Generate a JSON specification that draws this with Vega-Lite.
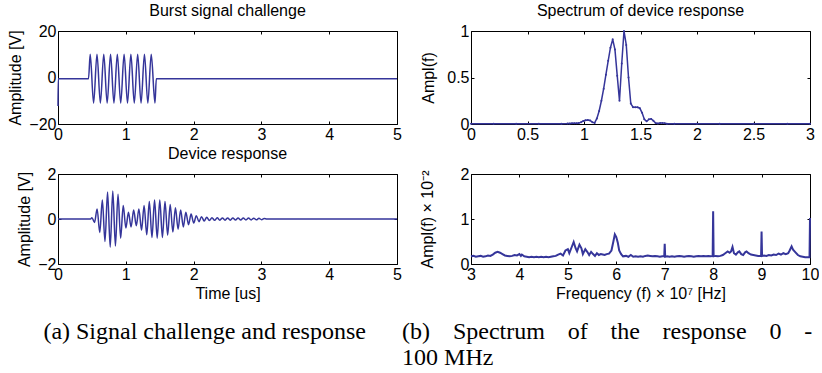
{
  "$schema": "https://vega.github.io/schema/vega-lite/v6.json",
  "background": "white",
  "padding": {"left": 7, "top": 3, "right": 0, "bottom": 0},
  "spacing": 0,
  "datasets": {
    "burst": [
      {"t": 0, "v": -12.3}, {"t": 0.004, "v": -0.5}, {"t": 0.45, "v": -0.5},
      {"t": 0.475, "v": 10}, {"t": 0.525, "v": -11}, {"t": 0.575, "v": 10}, {"t": 0.625, "v": -11},
      {"t": 0.675, "v": 10}, {"t": 0.725, "v": -11}, {"t": 0.775, "v": 10}, {"t": 0.825, "v": -11},
      {"t": 0.875, "v": 10}, {"t": 0.925, "v": -11}, {"t": 0.975, "v": 10}, {"t": 1.025, "v": -11},
      {"t": 1.075, "v": 10}, {"t": 1.125, "v": -11}, {"t": 1.175, "v": 10}, {"t": 1.225, "v": -11},
      {"t": 1.275, "v": 10}, {"t": 1.325, "v": -11}, {"t": 1.375, "v": 10}, {"t": 1.43, "v": -11},
      {"t": 1.45, "v": -0.5}, {"t": 5, "v": -0.5}
    ],
    "response": [
      {"t": 0, "v": 0}, {"t": 0.48, "v": 0},
      {"t": 0.5, "v": 0.06}, {"t": 0.539, "v": -0.15}, {"t": 0.577, "v": 0.45}, {"t": 0.616, "v": -0.6},
      {"t": 0.654, "v": 0.85}, {"t": 0.693, "v": -1.0}, {"t": 0.731, "v": 1.2}, {"t": 0.77, "v": -1.25},
      {"t": 0.808, "v": 1.25}, {"t": 0.847, "v": -1.2}, {"t": 0.885, "v": 1.1}, {"t": 0.924, "v": -0.85},
      {"t": 0.962, "v": 0.6}, {"t": 1.001, "v": -0.4}, {"t": 1.039, "v": 0.3}, {"t": 1.078, "v": -0.35},
      {"t": 1.116, "v": 0.4}, {"t": 1.155, "v": -0.3}, {"t": 1.193, "v": 0.45}, {"t": 1.232, "v": -0.5},
      {"t": 1.27, "v": 0.6}, {"t": 1.309, "v": -0.7}, {"t": 1.347, "v": 0.78}, {"t": 1.386, "v": -0.82},
      {"t": 1.424, "v": 0.85}, {"t": 1.463, "v": -0.85}, {"t": 1.501, "v": 0.85}, {"t": 1.54, "v": -0.82},
      {"t": 1.578, "v": 0.78}, {"t": 1.617, "v": -0.72}, {"t": 1.655, "v": 0.65}, {"t": 1.694, "v": -0.58},
      {"t": 1.732, "v": 0.5}, {"t": 1.771, "v": -0.45}, {"t": 1.809, "v": 0.4}, {"t": 1.848, "v": -0.35},
      {"t": 1.886, "v": 0.3}, {"t": 1.925, "v": -0.25}, {"t": 1.963, "v": 0.22}, {"t": 2.002, "v": -0.18},
      {"t": 2.04, "v": 0.15}, {"t": 2.079, "v": -0.12}, {"t": 2.117, "v": 0.1}, {"t": 2.156, "v": -0.09},
      {"t": 2.194, "v": 0.08}, {"t": 2.233, "v": -0.07}, {"t": 2.271, "v": 0.06}, {"t": 2.31, "v": -0.06},
      {"t": 2.348, "v": 0.055}, {"t": 2.387, "v": -0.05}, {"t": 2.425, "v": 0.05}, {"t": 2.464, "v": -0.05},
      {"t": 2.502, "v": 0.05}, {"t": 2.541, "v": -0.05}, {"t": 2.579, "v": 0.045}, {"t": 2.618, "v": -0.045},
      {"t": 2.656, "v": 0.045}, {"t": 2.695, "v": -0.045}, {"t": 2.733, "v": 0.04}, {"t": 2.772, "v": -0.04},
      {"t": 2.81, "v": 0.04}, {"t": 2.849, "v": -0.04}, {"t": 2.887, "v": 0.035}, {"t": 2.926, "v": -0.035},
      {"t": 2.964, "v": 0.03}, {"t": 3.003, "v": -0.03}, {"t": 3.041, "v": 0.02}, {"t": 3.08, "v": 0},
      {"t": 5, "v": 0}
    ],
    "spec1": [
      {"f": 0, "a": 0.004}, {"f": 0.2, "a": 0.003}, {"f": 0.4, "a": 0.003}, {"f": 0.6, "a": 0.003},
      {"f": 0.8, "a": 0.004}, {"f": 0.854, "a": 0.005}, {"f": 0.874, "a": 0.006}, {"f": 0.894, "a": 0.007},
      {"f": 0.914, "a": 0.008}, {"f": 0.934, "a": 0.007}, {"f": 0.954, "a": 0.01}, {"f": 0.974, "a": 0.02},
      {"f": 0.994, "a": 0.032}, {"f": 1.014, "a": 0.04}, {"f": 1.034, "a": 0.043}, {"f": 1.054, "a": 0.038},
      {"f": 1.074, "a": 0.02}, {"f": 1.094, "a": 0.012}, {"f": 1.114, "a": 0.06}, {"f": 1.134, "a": 0.14},
      {"f": 1.154, "a": 0.25}, {"f": 1.174, "a": 0.38}, {"f": 1.194, "a": 0.53}, {"f": 1.214, "a": 0.68},
      {"f": 1.234, "a": 0.82}, {"f": 1.254, "a": 0.91}, {"f": 1.274, "a": 0.8}, {"f": 1.294, "a": 0.52},
      {"f": 1.314, "a": 0.25}, {"f": 1.334, "a": 0.65}, {"f": 1.354, "a": 1.0}, {"f": 1.374, "a": 0.85},
      {"f": 1.394, "a": 0.5}, {"f": 1.414, "a": 0.22}, {"f": 1.434, "a": 0.18}, {"f": 1.454, "a": 0.18},
      {"f": 1.474, "a": 0.18}, {"f": 1.494, "a": 0.17}, {"f": 1.514, "a": 0.12}, {"f": 1.534, "a": 0.05},
      {"f": 1.554, "a": 0.03}, {"f": 1.574, "a": 0.05}, {"f": 1.594, "a": 0.055}, {"f": 1.614, "a": 0.035},
      {"f": 1.634, "a": 0.01}, {"f": 1.654, "a": 0.006}, {"f": 1.674, "a": 0.01}, {"f": 1.694, "a": 0.012},
      {"f": 1.714, "a": 0.008}, {"f": 1.734, "a": 0.004}, {"f": 1.8, "a": 0.003}, {"f": 2.0, "a": 0.003},
      {"f": 2.2, "a": 0.002}, {"f": 2.5, "a": 0.002}, {"f": 2.8, "a": 0.002}, {"f": 3.0, "a": 0.002}
    ],
    "spec2": [
      {"f": 3.0, "a": 0.17}, {"f": 3.05, "a": 0.18}, {"f": 3.1, "a": 0.16}, {"f": 3.15, "a": 0.17},
      {"f": 3.2, "a": 0.18}, {"f": 3.25, "a": 0.16}, {"f": 3.3, "a": 0.17}, {"f": 3.35, "a": 0.19},
      {"f": 3.4, "a": 0.18}, {"f": 3.45, "a": 0.21}, {"f": 3.5, "a": 0.25}, {"f": 3.55, "a": 0.27},
      {"f": 3.6, "a": 0.25}, {"f": 3.65, "a": 0.22}, {"f": 3.7, "a": 0.19}, {"f": 3.75, "a": 0.18},
      {"f": 3.8, "a": 0.17}, {"f": 3.85, "a": 0.18}, {"f": 3.9, "a": 0.2}, {"f": 3.95, "a": 0.19},
      {"f": 4.0, "a": 0.22}, {"f": 4.03, "a": 0.18}, {"f": 4.05, "a": 0.21}, {"f": 4.1, "a": 0.17},
      {"f": 4.15, "a": 0.16}, {"f": 4.2, "a": 0.15}, {"f": 4.25, "a": 0.16}, {"f": 4.3, "a": 0.15},
      {"f": 4.35, "a": 0.16}, {"f": 4.4, "a": 0.15}, {"f": 4.45, "a": 0.16}, {"f": 4.5, "a": 0.15},
      {"f": 4.55, "a": 0.16}, {"f": 4.6, "a": 0.15}, {"f": 4.65, "a": 0.16}, {"f": 4.7, "a": 0.17},
      {"f": 4.75, "a": 0.18}, {"f": 4.8, "a": 0.21}, {"f": 4.85, "a": 0.23}, {"f": 4.9, "a": 0.19},
      {"f": 4.95, "a": 0.3}, {"f": 5.0, "a": 0.33}, {"f": 5.03, "a": 0.24}, {"f": 5.07, "a": 0.35},
      {"f": 5.12, "a": 0.49}, {"f": 5.16, "a": 0.35}, {"f": 5.19, "a": 0.28}, {"f": 5.24, "a": 0.43},
      {"f": 5.28, "a": 0.35}, {"f": 5.31, "a": 0.22}, {"f": 5.36, "a": 0.33}, {"f": 5.4, "a": 0.27},
      {"f": 5.44, "a": 0.2}, {"f": 5.48, "a": 0.27}, {"f": 5.52, "a": 0.22}, {"f": 5.56, "a": 0.18},
      {"f": 5.6, "a": 0.24}, {"f": 5.64, "a": 0.2}, {"f": 5.68, "a": 0.22}, {"f": 5.72, "a": 0.21},
      {"f": 5.76, "a": 0.2}, {"f": 5.8, "a": 0.22}, {"f": 5.85, "a": 0.23}, {"f": 5.9, "a": 0.3},
      {"f": 5.94, "a": 0.5}, {"f": 5.97, "a": 0.66}, {"f": 6.0, "a": 0.6}, {"f": 6.03, "a": 0.48},
      {"f": 6.06, "a": 0.3}, {"f": 6.1, "a": 0.22}, {"f": 6.14, "a": 0.17}, {"f": 6.2, "a": 0.18},
      {"f": 6.25, "a": 0.16}, {"f": 6.3, "a": 0.2}, {"f": 6.35, "a": 0.16}, {"f": 6.4, "a": 0.17},
      {"f": 6.45, "a": 0.16}, {"f": 6.5, "a": 0.17}, {"f": 6.55, "a": 0.16}, {"f": 6.6, "a": 0.18},
      {"f": 6.65, "a": 0.19}, {"f": 6.7, "a": 0.18}, {"f": 6.75, "a": 0.17}, {"f": 6.8, "a": 0.18},
      {"f": 6.85, "a": 0.17}, {"f": 6.9, "a": 0.16}, {"f": 6.95, "a": 0.17}, {"f": 6.99, "a": 0.17},
      {"f": 7.0, "a": 0.45}, {"f": 7.01, "a": 0.16}, {"f": 7.05, "a": 0.17}, {"f": 7.1, "a": 0.16},
      {"f": 7.15, "a": 0.17}, {"f": 7.2, "a": 0.16}, {"f": 7.25, "a": 0.17}, {"f": 7.3, "a": 0.18},
      {"f": 7.35, "a": 0.17}, {"f": 7.4, "a": 0.16}, {"f": 7.45, "a": 0.17}, {"f": 7.5, "a": 0.18},
      {"f": 7.55, "a": 0.17}, {"f": 7.6, "a": 0.16}, {"f": 7.65, "a": 0.17}, {"f": 7.7, "a": 0.18},
      {"f": 7.75, "a": 0.17}, {"f": 7.8, "a": 0.18}, {"f": 7.85, "a": 0.17}, {"f": 7.9, "a": 0.18},
      {"f": 7.95, "a": 0.17}, {"f": 7.99, "a": 0.18}, {"f": 8.0, "a": 1.17}, {"f": 8.01, "a": 0.17},
      {"f": 8.05, "a": 0.18}, {"f": 8.1, "a": 0.17}, {"f": 8.15, "a": 0.18}, {"f": 8.2, "a": 0.2},
      {"f": 8.25, "a": 0.24}, {"f": 8.3, "a": 0.28}, {"f": 8.34, "a": 0.25}, {"f": 8.37, "a": 0.28},
      {"f": 8.4, "a": 0.38}, {"f": 8.43, "a": 0.24}, {"f": 8.47, "a": 0.21}, {"f": 8.51, "a": 0.26},
      {"f": 8.54, "a": 0.28}, {"f": 8.58, "a": 0.22}, {"f": 8.62, "a": 0.2}, {"f": 8.66, "a": 0.26},
      {"f": 8.69, "a": 0.28}, {"f": 8.73, "a": 0.24}, {"f": 8.78, "a": 0.21}, {"f": 8.83, "a": 0.2},
      {"f": 8.88, "a": 0.19}, {"f": 8.93, "a": 0.18}, {"f": 8.99, "a": 0.18}, {"f": 9.0, "a": 0.72},
      {"f": 9.01, "a": 0.18}, {"f": 9.05, "a": 0.19}, {"f": 9.1, "a": 0.18}, {"f": 9.15, "a": 0.2},
      {"f": 9.2, "a": 0.19}, {"f": 9.25, "a": 0.21}, {"f": 9.3, "a": 0.2}, {"f": 9.35, "a": 0.23},
      {"f": 9.4, "a": 0.21}, {"f": 9.45, "a": 0.24}, {"f": 9.5, "a": 0.22}, {"f": 9.55, "a": 0.24},
      {"f": 9.58, "a": 0.3}, {"f": 9.62, "a": 0.39}, {"f": 9.65, "a": 0.32}, {"f": 9.7, "a": 0.26},
      {"f": 9.75, "a": 0.2}, {"f": 9.8, "a": 0.17}, {"f": 9.85, "a": 0.16}, {"f": 9.9, "a": 0.15},
      {"f": 9.95, "a": 0.15}, {"f": 9.99, "a": 0.15}, {"f": 10.0, "a": 1.02}
    ]
  },
  "hconcat": [
    {
      "title": {"text": "(a) Signal challenge and response", "orient": "bottom", "anchor": "middle", "frame": "bounds", "font": "Liberation Serif", "fontSize": 24, "offset": 19},
      "spacing": 4,
      "vconcat": [
        {
          "width": 339, "height": 93,
          "title": {"text": "Burst signal challenge"},
          "data": {"name": "burst"},
          "layer": [
            {
              "mark": {"type": "line", "interpolate": "monotone", "strokeWidth": 1.5},
              "encoding": {
                "x": {"field": "t", "type": "quantitative", "scale": {"domain": [0, 5], "nice": false}, "axis": {"values": [0, 1, 2, 3, 4, 5], "title": null}},
                "y": {"field": "v", "type": "quantitative", "scale": {"domain": [-20, 20], "nice": false, "zero": false}, "axis": {"values": [-20, 0, 20], "title": "Amplitude [V]", "titlePadding": 5}}
              }
            },
            {
              "mark": {"type": "line", "opacity": 0},
              "encoding": {
                "x": {"field": "t", "type": "quantitative", "axis": {"orient": "top", "values": [0, 1, 2, 3, 4, 5], "labels": false, "title": null}},
                "y": {"field": "v", "type": "quantitative", "axis": {"orient": "right", "values": [-20, 0, 20], "labels": false, "title": null}}
              }
            }
          ],
          "resolve": {"axis": {"x": "independent", "y": "independent"}}
        },
        {
          "width": 339, "height": 90,
          "title": {"text": "Device response"},
          "data": {"name": "response"},
          "layer": [
            {
              "mark": {"type": "line", "interpolate": "monotone", "strokeWidth": 1.5},
              "encoding": {
                "x": {"field": "t", "type": "quantitative", "scale": {"domain": [0, 5], "nice": false}, "axis": {"values": [0, 1, 2, 3, 4, 5], "title": "Time [us]", "titlePadding": 3}},
                "y": {"field": "v", "type": "quantitative", "scale": {"domain": [-2, 2], "nice": false, "zero": false}, "axis": {"values": [-2, 0, 2], "title": "Amplitude [V]", "titlePadding": 5}}
              }
            },
            {
              "mark": {"type": "line", "opacity": 0},
              "encoding": {
                "x": {"field": "t", "type": "quantitative", "axis": {"orient": "top", "values": [0, 1, 2, 3, 4, 5], "labels": false, "title": null}},
                "y": {"field": "v", "type": "quantitative", "axis": {"orient": "right", "values": [-2, 0, 2], "labels": false, "title": null}}
              }
            }
          ],
          "resolve": {"axis": {"x": "independent", "y": "independent"}}
        }
      ]
    },
    {
      "title": {"text": ["(b)\u2002\u2009 Spectrum\u2002\u2009 of\u2002\u2009 the\u2002\u2009 response\u2002\u2009 0\u2002\u2009 -", "100 MHz"], "orient": "bottom", "anchor": "start", "frame": "bounds", "font": "Liberation Serif", "fontSize": 24, "offset": 19, "lineHeight": 26, "dx": -17},
      "spacing": 4,
      "vconcat": [
        {
          "width": 339, "height": 93,
          "title": {"text": "Spectrum of device response"},
          "data": {"name": "spec1"},
          "layer": [
            {
              "mark": {"type": "line", "strokeWidth": 1.5, "point": {"filled": true, "size": 4}},
              "encoding": {
                "x": {"field": "f", "type": "quantitative", "scale": {"domain": [0, 3], "nice": false}, "axis": {"values": [0, 0.5, 1, 1.5, 2, 2.5, 3], "format": "~g", "title": null}},
                "y": {"field": "a", "type": "quantitative", "scale": {"domain": [0, 1], "nice": false}, "axis": {"values": [0, 0.5, 1], "format": "~g", "title": "Ampl(f)", "titlePadding": 10}}
              }
            },
            {
              "mark": {"type": "line", "opacity": 0},
              "encoding": {
                "x": {"field": "f", "type": "quantitative", "axis": {"orient": "top", "values": [0, 0.5, 1, 1.5, 2, 2.5, 3], "labels": false, "title": null}},
                "y": {"field": "a", "type": "quantitative", "axis": {"orient": "right", "values": [0, 0.5, 1], "labels": false, "title": null}}
              }
            }
          ],
          "resolve": {"axis": {"x": "independent", "y": "independent"}}
        },
        {
          "width": 339, "height": 90,
          "title": {"text": " "},
          "data": {"name": "spec2"},
          "layer": [
            {
              "mark": {"type": "line", "strokeWidth": 2},
              "encoding": {
                "x": {"field": "f", "type": "quantitative", "scale": {"domain": [3, 10], "nice": false}, "axis": {"values": [3, 4, 5, 6, 7, 8, 9, 10], "format": "d", "title": "Frequency (f) × 10⁷ [Hz]", "titlePadding": 3}},
                "y": {"field": "a", "type": "quantitative", "scale": {"domain": [0, 2], "nice": false}, "axis": {"values": [0, 1, 2], "format": "~g", "title": "Ampl(f) × 10⁻²", "titlePadding": 25}}
              }
            },
            {
              "mark": {"type": "line", "opacity": 0},
              "encoding": {
                "x": {"field": "f", "type": "quantitative", "axis": {"orient": "top", "values": [3, 4, 5, 6, 7, 8, 9, 10], "labels": false, "title": null}},
                "y": {"field": "a", "type": "quantitative", "axis": {"orient": "right", "values": [0, 1, 2], "labels": false, "title": null}}
              }
            }
          ],
          "resolve": {"axis": {"x": "independent", "y": "independent"}}
        }
      ]
    }
  ],
  "config": {
    "font": "Liberation Sans",
    "view": {"stroke": null},
    "line": {"color": "#35359a"},
    "point": {"color": "#35359a"},
    "axis": {
      "labelFont": "Liberation Sans", "labelFontSize": 16, "labelColor": "#000",
      "titleFont": "Liberation Sans", "titleFontSize": 16, "titleFontWeight": "normal", "titleColor": "#000",
      "domainColor": "#000", "domainWidth": 1, "tickColor": "#000", "tickSize": -3, "labelPadding": 5,
      "grid": false, "labelFlush": false, "labelOverlap": false
    },
    "title": {"font": "Liberation Sans", "fontSize": 16, "fontWeight": "normal", "color": "#000", "offset": 4}
  }
}
